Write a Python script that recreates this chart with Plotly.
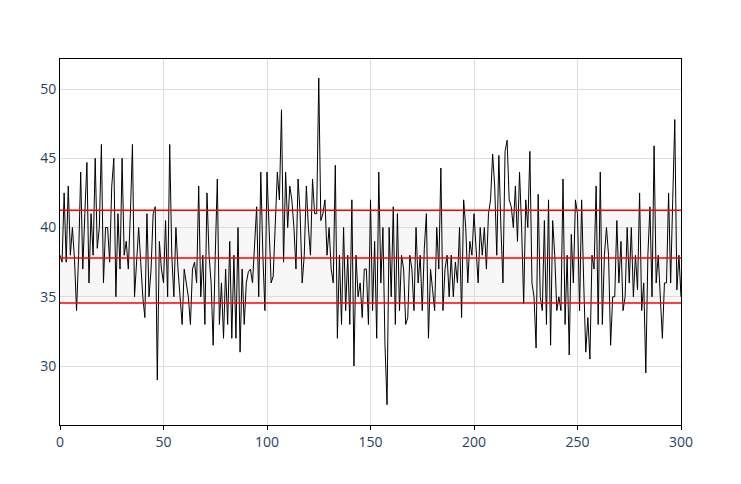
import plotly.graph_objects as go

values = [
    38, 37.5, 42.5, 37.5, 43, 38, 40, 37.7, 34, 38, 44, 37, 41, 44.7, 36, 41, 38, 45, 38.5, 40, 46, 36, 40, 40, 37.5,
    43, 45, 35, 41, 37, 45, 38, 39, 37, 41, 46, 35, 38, 40, 37.5, 35, 33.5, 41, 35, 37, 41, 41.5, 29, 39, 37,
    36, 40.5, 35, 46, 38, 35, 40, 37, 35, 33, 37, 36, 35, 33, 37, 37.5, 36, 43, 35, 38, 33, 42.5, 38, 36, 31.5,
    38, 43.5, 33, 36, 32, 37, 33, 39, 32, 38, 32, 40, 31, 37, 33, 36, 36.8, 37, 36, 39, 41.5, 35, 44, 38, 34,
    44, 40, 36, 36.5, 41, 44, 42, 48.5, 37.5, 44, 40, 43, 42, 40, 37, 43.5, 41, 36, 38, 43, 40, 38, 43.5, 41, 41,
    50.8, 40.5, 41, 42, 38, 40, 37, 36, 44.5, 32, 38, 33, 40, 34, 38, 33, 42, 30, 38, 35, 36, 33.5, 37, 37, 33,
    42, 34, 39, 32, 44, 36, 40, 31.5, 27.2, 40, 35, 41.5, 33, 41, 34, 38, 37, 33, 33.5, 38, 37, 34, 40, 36, 38,
    34, 38.5, 41, 32, 37, 35.5, 34, 40, 37, 44.3, 34, 37, 38, 35, 38, 35, 37.5, 36, 40, 33.5, 42, 40, 36, 39, 38,
    41, 38, 36, 40, 38, 40, 37, 41, 42, 45.3, 43, 38, 45.2, 40, 36, 45.5, 46.3, 42, 41.5, 40, 43, 39, 44, 40, 34.5,
    42, 40, 45.5, 36, 35, 31.3, 42.4, 35, 34, 40.5, 33, 42, 31.5, 40.5, 38, 34, 35, 34, 43.5, 33, 38, 30.8, 39.5, 36, 42,
    41, 34, 42, 36, 31, 33.5, 30.5, 38, 37, 43, 33, 44, 33, 38, 40, 38, 31.5, 35, 35, 40.5, 36, 39, 34, 35, 40,
    36, 40, 35, 38, 35.5, 42.5, 34, 36, 29.5, 38, 41.5, 35, 45.9, 36, 38, 35, 32, 36, 36, 42.5, 36, 42, 47.8, 35.5, 38, 35,
]
x = list(range(len(values)))
center = 37.8
ucl = 41.25
lcl = 34.55

fig = go.Figure()
fig.add_hrect(y0=lcl, y1=ucl, fillcolor="rgba(200,200,200,0.15)", line_width=0, layer="below")
fig.add_trace(go.Scatter(x=x, y=values, mode="lines", line=dict(color="black", width=1)))
for v in (ucl, center, lcl):
    fig.add_hline(y=v, line=dict(color="red", width=1.5))

fig.update_layout(
    width=741, height=484,
    margin=dict(l=52, r=68, t=51, b=67),
    plot_bgcolor="white",
    showlegend=False,
    font=dict(family="Open Sans", size=14, color="#2a3f5f"),
)
fig.update_xaxes(range=[0, 300], showline=True, linecolor="black", mirror=True,
                 gridcolor="#dddddd", ticks="outside", ticklen=4, tickcolor="black", zeroline=False)
fig.update_yaxes(range=[25.74, 52.17], showline=True, linecolor="black", mirror=True,
                 gridcolor="#dddddd", tickvals=[30, 35, 40, 45, 50], zeroline=False)
fig.write_html("out.html")
